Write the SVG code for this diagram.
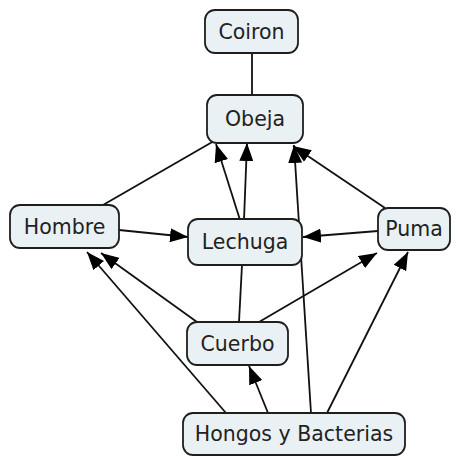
<svg xmlns="http://www.w3.org/2000/svg" width="461" height="457" viewBox="0 0 461 457">
<style>
.n rect{fill:#eaf1f5;stroke:#1e1e1e;stroke-width:1.8}
.n text{font-family:"DejaVu Sans",Verdana,sans-serif;font-size:20.5px;fill:#222;text-anchor:middle}
.e line{stroke:#111;stroke-width:1.8}
</style>
<defs>
<marker id="a" viewBox="0 0 18 14" refX="18" refY="7" markerWidth="18" markerHeight="14" markerUnits="userSpaceOnUse" orient="auto">
<path d="M0,0L18,7L0,14Z" fill="#000"/>
</marker>
</defs>
<rect width="461" height="457" fill="#fff"/>
<g id="edges" class="e">
<line x1="252" y1="53" x2="252" y2="95"/>
<line x1="103" y1="205" x2="214" y2="141"/>
<line x1="240" y1="220" x2="216" y2="144" marker-end="url(#a)"/>
<line x1="244" y1="220" x2="247" y2="143" marker-end="url(#a)"/>
<line x1="385" y1="208" x2="293" y2="146" marker-end="url(#a)"/>
<line x1="311" y1="413" x2="294" y2="145" marker-end="url(#a)"/>
<line x1="239" y1="322" x2="242" y2="265"/>
<line x1="119" y1="230" x2="188" y2="237" marker-end="url(#a)"/>
<line x1="378" y1="231" x2="303" y2="237" marker-end="url(#a)"/>
<line x1="197" y1="322" x2="101" y2="253" marker-end="url(#a)"/>
<line x1="226" y1="413" x2="87" y2="252" marker-end="url(#a)"/>
<line x1="259" y1="322" x2="377" y2="253" marker-end="url(#a)"/>
<line x1="327" y1="413" x2="408" y2="252" marker-end="url(#a)"/>
<line x1="268" y1="413" x2="249" y2="366" marker-end="url(#a)"/>
</g>
<g id="coiron" class="n"><rect x="205" y="10" width="93" height="43" rx="10"/><text x="251.5" y="39">Coiron</text></g>
<g id="obeja" class="n"><rect x="207" y="95" width="96" height="48" rx="10"/><text x="255" y="126">Obeja</text></g>
<g id="hombre" class="n"><rect x="10" y="205" width="109" height="43" rx="10"/><text x="64.5" y="234">Hombre</text></g>
<g id="lechuga" class="n"><rect x="188" y="219" width="114" height="46" rx="10"/><text x="245" y="249">Lechuga</text></g>
<g id="puma" class="n"><rect x="378" y="208" width="72" height="42" rx="10"/><text x="414" y="236">Puma</text></g>
<g id="cuerbo" class="n"><rect x="187" y="322" width="101" height="43" rx="10"/><text x="237.5" y="351">Cuerbo</text></g>
<g id="hongos" class="n"><rect x="183" y="413" width="222" height="42" rx="10"/><text x="294" y="441">Hongos y Bacterias</text></g>
</svg>
